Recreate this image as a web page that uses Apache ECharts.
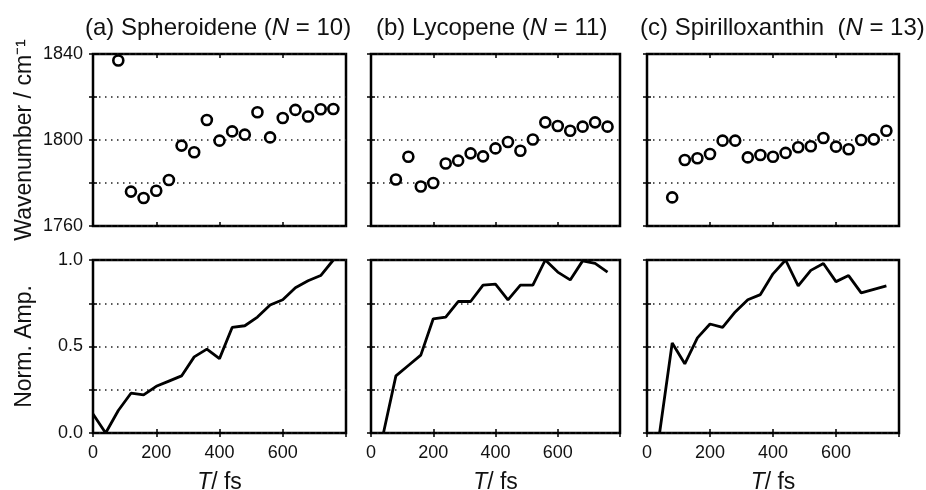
<!DOCTYPE html>
<html>
<head>
<meta charset="utf-8">
<script src="https://cdn.jsdelivr.net/npm/echarts@6/dist/echarts.min.js"></script>
<style>
  html, body { margin: 0; padding: 0; background: #fff; }
  #main { width: 926px; height: 490px; }
</style>
</head>
<body>
<div id="main"></div>
<script>
// delay times (fs)
let tWave = [80, 120, 160, 200, 240, 280, 320, 360, 400, 440, 480, 520, 560, 600, 640, 680, 720, 760];
let tAmp = [0, 40, 80, 120, 160, 200, 240, 280, 320, 360, 400, 440, 480, 520, 560, 600, 640, 680, 720, 760];

// wavenumber (cm-1), top row
let waveSpher = [1837, 1776, 1773, 1776.4, 1781.4, 1797.4, 1794.3, 1809.3, 1799.7, 1804, 1802.5, 1812.9, 1801.2, 1810.2, 1814, 1810.9, 1814.3, 1814.4];
let waveLyco = [1781.6, 1792.2, 1778.4, 1780, 1789.1, 1790.4, 1793.8, 1792.4, 1796.1, 1799.1, 1795, 1800.2, 1808.2, 1806.5, 1804.3, 1806.2, 1808.2, 1806.2];
let waveSpir = [1773.3, 1790.7, 1791.5, 1793.5, 1799.7, 1799.7, 1791.9, 1793, 1792.2, 1794, 1796.6, 1797.1, 1800.9, 1796.9, 1795.7, 1800, 1800.3, 1804.3];

// normalized amplitude, bottom row
let ampSpher = [0.11, 0, 0.13, 0.23, 0.22, 0.27, 0.3, 0.33, 0.44, 0.485, 0.43, 0.61, 0.62, 0.67, 0.74, 0.77, 0.84, 0.88, 0.91, 1.0];
let ampLyco = [null, 0, 0.33, 0.39, 0.45, 0.66, 0.67, 0.76, 0.76, 0.855, 0.86, 0.77, 0.855, 0.855, 1.0, 0.93, 0.885, 0.995, 0.98, 0.93];
let ampSpir = [null, 0, 0.52, 0.4, 0.55, 0.63, 0.61, 0.7, 0.77, 0.8, 0.92, 1.0, 0.85, 0.94, 0.98, 0.875, 0.91, 0.81, 0.83, 0.85];

let titles = [
  "(a) Spheroidene ({i|N} = 10)",
  "(b) Lycopene ({i|N} = 11)",
  "(c) Spirilloxanthin  ({i|N} = 13)",
];

(function () {
  let chart = echarts.init(document.getElementById("main"));
  let font = "'Liberation Sans', Arial, sans-serif";
  let ink = "#111";

  let colLeft = [93, 371, 647];
  let colWidth = [253, 249, 252];
  let rowTop = [54, 260];
  let rowHeight = [172, 173];
  let titleLeft = [80, 371, 635];

  let waves = [waveSpher, waveLyco, waveSpir];
  let amps = [ampSpher, ampLyco, ampSpir];

  let grid = [], xAxis = [], yAxis = [], series = [], title = [];

  let tick = { show: true, inside: true, length: 4, lineStyle: { color: "#000", width: 1.5 } };

  for (let c = 0; c < 3; c++) {
    title.push({
      text: titles[c],
      left: titleLeft[c],
      top: 11,
      textStyle: {
        fontFamily: font, fontSize: 24, fontWeight: "normal", color: ink,
        rich: { i: { fontFamily: font, fontSize: 24, fontStyle: "italic", color: ink } },
      },
    });
    for (let r = 0; r < 2; r++) {
      let g = grid.length;
      grid.push({
        left: colLeft[c], top: rowTop[r], width: colWidth[c], height: rowHeight[r],
        outerBoundsMode: "none",
        show: true, borderColor: "#000", borderWidth: 2.5, backgroundColor: "#fff",
      });
      let bottomRow = r === 1;
      xAxis.push({
        type: "value", gridIndex: g, position: "bottom", min: 0, max: 800, interval: 200,
        axisLine: { show: false }, axisTick: tick, splitLine: { show: false },
        axisLabel: {
          show: bottomRow, color: ink, fontFamily: font, fontSize: 18, margin: 11,
          formatter: function (v) { return v < 800 ? String(v) : ""; },
        },
        name: bottomRow ? "{i|T}/ fs" : "",
        nameLocation: "middle", nameGap: 38,
        nameTextStyle: {
          fontFamily: font, fontSize: 23, color: ink,
          rich: { i: { fontFamily: font, fontSize: 23, fontStyle: "italic", color: ink } },
        },
      });
      xAxis.push({
        type: "value", gridIndex: g, position: "top", min: 0, max: 800, interval: 200,
        axisLine: { show: false }, axisTick: tick, axisLabel: { show: false }, splitLine: { show: false },
      });
      let yName = "";
      if (c === 0) yName = bottomRow ? "Norm. Amp." : "Wavenumber / cm\u207B\u00B9";
      yAxis.push({
        type: "value", gridIndex: g, position: "left",
        min: bottomRow ? 0 : 1760, max: bottomRow ? 1 : 1840, interval: bottomRow ? 0.25 : 20,
        axisLine: { show: false }, axisTick: tick,
        splitLine: { show: true, lineStyle: { color: "#222", width: 1.5, type: [1.5, 4.5] } },
        axisLabel: {
          show: c === 0, color: ink, fontFamily: font, fontSize: 18, margin: 10,
          formatter: function (v) {
            if (bottomRow) return Math.abs(v * 2 - Math.round(v * 2)) < 1e-6 ? v.toFixed(1) : "";
            return v % 40 === 0 ? String(v) : "";
          },
        },
        name: yName, nameLocation: "middle", nameGap: 57,
        nameTextStyle: { fontFamily: font, fontSize: 23, color: ink },
      });
      yAxis.push({
        type: "value", gridIndex: g, position: "right",
        min: bottomRow ? 0 : 1760, max: bottomRow ? 1 : 1840, interval: bottomRow ? 0.25 : 20,
        axisLine: { show: false }, axisTick: tick, axisLabel: { show: false }, splitLine: { show: false },
      });

      if (bottomRow) {
        series.push({
          type: "line", xAxisIndex: xAxis.length - 2, yAxisIndex: yAxis.length - 2,
          data: tAmp.map(function (t, i) { return [t, amps[c][i]]; }),
          showSymbol: false, symbol: "none",
          lineStyle: { color: "#000", width: 2.8 },
          z: 5,
        });
      } else {
        series.push({
          type: "scatter", xAxisIndex: xAxis.length - 2, yAxisIndex: yAxis.length - 2,
          data: tWave.map(function (t, i) { return [t, waves[c][i]]; }),
          symbol: "circle", symbolSize: 10,
          itemStyle: { color: "#fff", borderColor: "#000", borderWidth: 2.6, opacity: 1 },
          z: 5,
        });
      }
    }
  }

  let option = {
    animation: false,
    backgroundColor: "#fff",
    title: title,
    grid: grid,
    xAxis: xAxis,
    yAxis: yAxis,
    series: series,
  };
  option && chart.setOption(option);
})();
</script>
</body>
</html>
